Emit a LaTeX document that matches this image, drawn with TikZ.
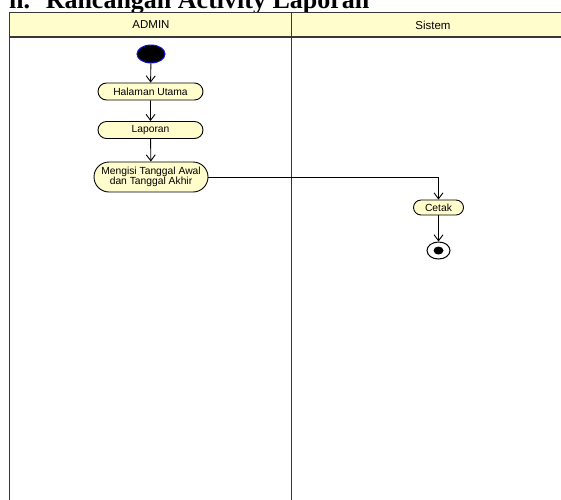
\documentclass[tikz,border=0pt]{standalone}
\usepackage{fontspec}
\setmainfont{Liberation Serif}
\setsansfont{Liberation Sans}
\usetikzlibrary{arrows.meta,shapes.misc,shapes.geometric}
\definecolor{lanefill}{HTML}{FFFDCC}
\definecolor{actfill}{HTML}{FFFDCC}
\definecolor{lanedraw}{HTML}{383838}
\definecolor{startblue}{HTML}{1010E0}
\tikzset{
  lane/.style={draw=lanedraw, line width=1.7pt},
  lanehead/.style={font=\sffamily\fontsize{11.5}{12}\selectfont},
  action/.style={rounded rectangle, draw=black, fill=actfill, line width=0.9pt,
    inner sep=0pt, align=center, font=\sffamily\fontsize{10.3}{11}\selectfont},
  flow/.style={draw=black, line width=0.9pt, -{Straight Barb[length=6pt,width=9pt,line width=0.9pt]}},
}
\begin{document}
\begin{tikzpicture}[x=1pt,y=-1pt]
\useasboundingbox (0,0) rectangle (561,499);
\clip (0,0) rectangle (561,499);
% heading above the chart, cut by the page top
\node[anchor=base west, inner sep=0pt, font=\bfseries\fontsize{26}{28}\selectfont] (title) at (9,8) {n.\hspace{0.6em}Rancangan Activity Laporan};
% swimlanes
\fill[lanefill] (9.5,12.5) rectangle (570,37);
\draw[lane] (570,12.5) -- (9.5,12.5) -- (9.5,505);
\draw[lane] (9.5,37) -- (570,37);
\draw[lane] (291.5,12.5) -- (291.5,505);
\node[lanehead] (admin) at (151,25) {ADMIN};
\node[lanehead] (sistem) at (433,25) {Sistem};
% activity nodes
\node[ellipse, fill=black, draw=startblue, line width=1pt, minimum width=28pt, minimum height=18pt, inner sep=0pt] (start) at (151,54) {};
\node[action, minimum width=105pt, minimum height=17pt] (home) at (150.5,91.5) {Halaman Utama};
\node[action, minimum width=105pt, minimum height=17pt] (lap) at (150.5,130) {Laporan};
\node[action, minimum width=114pt, minimum height=30pt] (isi) at (151,177) {Mengisi Tanggal Awal\\[-1pt]dan Tanggal Akhir};
\node[action, minimum width=50pt, minimum height=15pt] (cetak) at (438.5,207.5) {Cetak};
\node[ellipse, draw=black, fill=white, line width=1pt, minimum width=23pt, minimum height=17pt, inner sep=0pt] (end) at (438.5,250.5) {};
\node[ellipse, fill=black, minimum width=10pt, minimum height=8pt, inner sep=0pt] (enddot) at (end.center) {};
\coordinate (turn) at (438.5,177);
% control flow
\draw[flow] (start) -- (home);
\draw[flow] (home) -- (lap);
\draw[flow] (lap) -- (isi);
\draw[flow] (isi.east) -- (turn) -- (cetak.north);
\draw[flow] (cetak) -- (end);
\end{tikzpicture}
\end{document}
